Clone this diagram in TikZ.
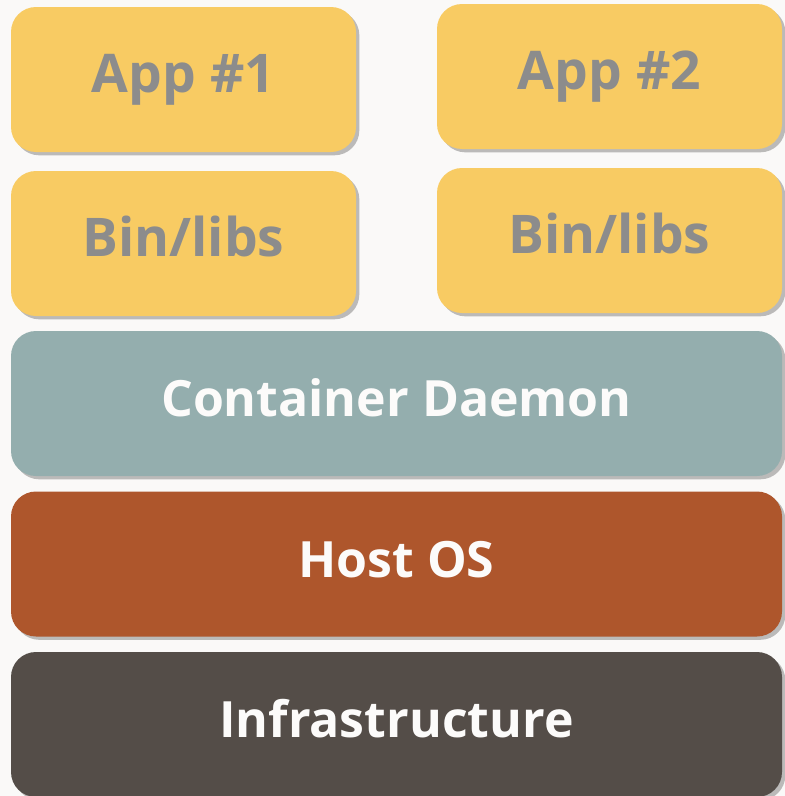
\documentclass[tikz,border=0pt]{standalone}
\usepackage{fontspec}
\setmainfont{Open Sans}
\usepackage{tikz}
\usetikzlibrary{shadows}

\definecolor{bgcol}{HTML}{FAF9F8}
\definecolor{appyellow}{HTML}{F8CB63}
\definecolor{apptext}{HTML}{8C8C8C}
\definecolor{daemonteal}{HTML}{94AEAE}
\definecolor{hostrust}{HTML}{AE562C}
\definecolor{infradark}{HTML}{544D48}
\definecolor{lighttext}{HTML}{FCFBFA}

\begin{document}
\begin{tikzpicture}[x=0.75pt, y=-0.75pt,
    small/.style={minimum width=258.75pt, fill=appyellow, text=apptext,
        text height=29.2pt, text depth=9.6pt, font=\bfseries\fontsize{40}{48}\selectfont},
    wide/.style={minimum width=578.25pt, text=lighttext,
        text height=27.4pt, text depth=7.5pt, font=\bfseries\fontsize{37.5}{45}\selectfont}]
        \fill[bgcol] (0,0) rectangle (785,796);
        \useasboundingbox (0,0) rectangle (785,796);

        \begin{scope}[every node/.style={rounded corners=18.75pt, minimum height=108.75pt, inner sep=0pt,
            drop shadow={shadow xshift=2.5pt, shadow yshift=-2.5pt, fill=black, opacity=0.25}}]
            \node[small] (App1) at (183.5, 79.5) {App \#1};
            \node[small] (Bin1) at (183.5, 243.5) {Bin/libs};

            \node[small] (App2) at (609.5, 76.5) {App \#2};
            \node[small] (Bin2) at (609.5, 240.5) {Bin/libs};

            \node[wide, fill=daemonteal] (Dmn) at (396.5, 403.5) {Container Daemon};
            \node[wide, fill=hostrust] (Host) at (396.5, 564) {Host OS};
            \node[wide, fill=infradark] (Infra) at (396.5, 724.5) {Infrastructure};
        \end{scope}
    \end{tikzpicture}
\end{document}
